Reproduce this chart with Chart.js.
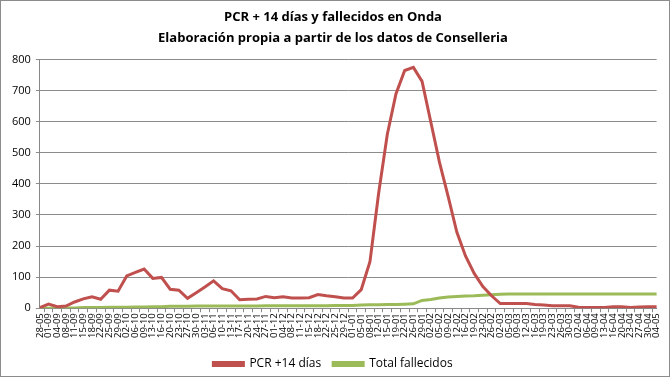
<!DOCTYPE html>
<html>
<head>
<meta charset="utf-8">
<script src="https://cdn.jsdelivr.net/npm/chart.js@4"></script>
<style>
    html, body { margin: 0; padding: 0; background: #fff; }
    #wrap { width: 668px; height: 375px; border: 1px solid #8c8c8c; }
</style>
</head>
<body>
<div id="wrap"><canvas id="chart" width="668" height="375"></canvas></div>
<script>
// fechas (cada 3-4 días)
const labels = [
    "28-05", "01-09", "04-09", "08-09", "11-09", "15-09", "18-09", "22-09", "25-09", "29-09",
    "02-10", "06-10", "09-10", "13-10", "16-10", "20-10", "23-10", "27-10", "30-10",
    "03-11", "06-11", "10-11", "13-11", "17-11", "20-11", "24-11", "27-11",
    "01-12", "04-12", "08-12", "11-12", "15-12", "18-12", "22-12", "25-12", "29-12",
    "01-01", "05-01", "08-01", "12-01", "15-01", "19-01", "22-01", "26-01", "29-01",
    "02-02", "05-02", "09-02", "12-02", "16-02", "19-02", "23-02", "26-02",
    "02-03", "05-03", "09-03", "12-03", "16-03", "19-03", "23-03", "26-03", "30-03",
    "02-04", "06-04", "09-04", "13-04", "16-04", "20-04", "23-04", "27-04", "30-04",
    "04-05",
];

const pcr14 = [
    2, 13, 5, 7, 20, 30, 37, 29, 58, 55,
    104, 115, 126, 96, 99, 61, 58, 32, 50, 68,
    88, 63, 56, 27, 29, 30, 38, 34, 37, 33,
    33, 34, 44, 40, 37, 33, 33, 60, 150, 370,
    560, 690, 765, 775, 730, 600, 470, 360, 245, 168,
    112, 70, 40, 15, 15, 15, 15, 12, 10, 8,
    8, 8, 3, 2, 2, 2, 5, 5, 2, 4,
    5, 5,
];

const fallecidos = [
    0, 0, 1, 1, 1, 2, 2, 2, 3, 3,
    3, 4, 4, 5, 5, 6, 6, 6, 7, 7,
    7, 7, 7, 7, 7, 7, 8, 8, 8, 8,
    8, 8, 8, 8, 9, 9, 9, 10, 11, 11,
    12, 12, 13, 14, 25, 28, 33, 36, 38, 39,
    40, 42, 43, 45, 46, 46, 46, 46, 46, 46,
    46, 46, 46, 46, 46, 46, 46, 46, 46, 46,
    46, 46,
];

const yTicks = [0, 100, 200, 300, 400, 500, 600, 700, 800];

const fontFamily = "'Open Sans', 'Liberation Sans', sans-serif";

new Chart(document.getElementById("chart"), {
    type: "line",
    data: {
        labels,
        datasets: [
            {
                label: "PCR +14 días",
                data: pcr14,
                borderColor: "#c0504d",
                backgroundColor: "#c0504d",
                borderWidth: 3,
                pointRadius: 0,
                tension: 0,
            },
            {
                label: "Total fallecidos",
                data: fallecidos,
                borderColor: "#9bbb59",
                backgroundColor: "#9bbb59",
                borderWidth: 3,
                pointRadius: 0,
                tension: 0,
            },
        ],
    },
    options: {
        responsive: false,
        animation: false,
        layout: { padding: { left: 6, right: 10, top: 2, bottom: -4 } },
        plugins: {
            title: {
                display: true,
                text: ["PCR + 14 días y fallecidos en Onda", "Elaboración propia a partir de los datos de Conselleria"],
                color: "#000",
                font: { family: fontFamily, size: 13, weight: "bold", lineHeight: 1.6 },
                padding: { top: 4, bottom: 11 },
            },
            legend: {
                position: "bottom",
                labels: {
                    color: "#000",
                    font: { family: fontFamily, size: 12 },
                    boxWidth: 30,
                    boxHeight: 3,
                    padding: 12,
                },
            },
            tooltip: { enabled: false },
        },
        scales: {
            x: {
                grid: { drawOnChartArea: false, tickLength: 4, color: "#888", offset: true },
                border: { color: "#888" },
                afterFit: (axis) => {
                    // deja hueco entre las fechas y la leyenda
                    axis.height += 7;
                },
                ticks: {
                    autoSkip: false,
                    maxRotation: 90,
                    minRotation: 90,
                    color: "#000",
                    padding: 1,
                    font: { family: fontFamily, size: 9.5 },
                },
            },
            y: {
                min: 0,
                max: 800,
                afterBuildTicks: (axis) => {
                    axis.ticks = yTicks.map((v) => ({ value: v }));
                },
                grid: { color: "#8c8c8c", tickLength: 4 },
                border: { color: "#888" },
                ticks: {
                    color: "#000",
                    font: { family: fontFamily, size: 11 },
                    padding: 5,
                },
            },
        },
    },
});
</script>
</body>
</html>
